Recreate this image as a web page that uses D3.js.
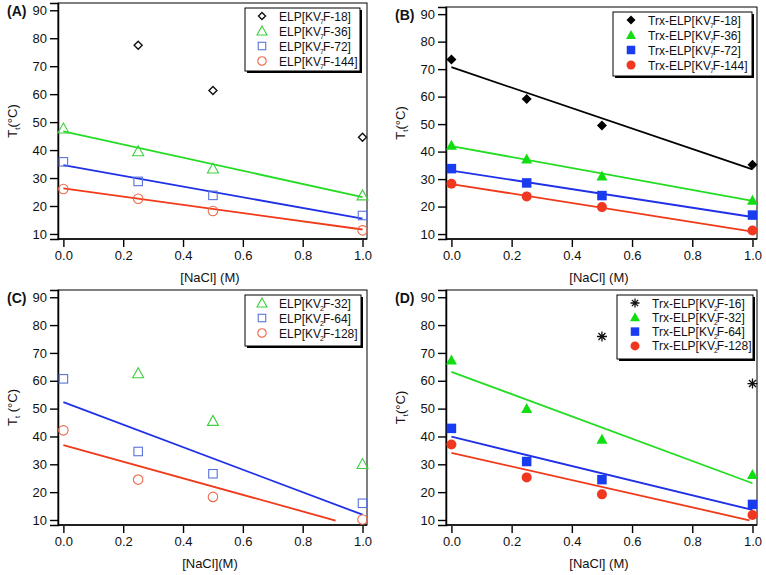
<!DOCTYPE html>
<html>
<head>
<meta charset="utf-8">
<script src="https://cdn.jsdelivr.net/npm/d3@7"></script>
<style>
  body { margin: 0; background: #fff; }
  text { font-family: "Liberation Sans", Arial, sans-serif; }
</style>
</head>
<body>
<script>
// data
var nacl = [0, 0.25, 0.5, 1.0];
var xTicks = [0, 0.2, 0.4, 0.6, 0.8, 1.0];
var yTicks = [10, 20, 30, 40, 50, 60, 70, 80, 90];

// (A) ELP[KV7F-n]
var elp7_18 = [null, 77.5, 61.3, 44.6];
var elp7_36 = [47.7, 39.6, 33.4, 23.8];
var elp7_72 = [35.8, 28.8, 23.8, 16.6];
var elp7_144 = [26.1, 22.6, 18.2, 11.3];
var fitA_36 = [46.7, 23.2];
var fitA_72 = [34.6, 15.5];
var fitA_144 = [26.3, 11.6];

// (B) Trx-ELP[KV7F-n]
var trx7_18 = [73.5, 59.1, 49.5, 35.2];
var trx7_36 = [42.3, 37.3, 31.1, 22.3];
var trx7_72 = [33.8, 28.6, 24.0, 16.9];
var trx7_144 = [28.3, 23.7, 19.8, 11.3];
var fitB_18 = [70.7, 33.5];
var fitB_36 = [42.0, 22.1];
var fitB_72 = [33.1, 16.2];
var fitB_144 = [28.2, 10.9];

// (C) ELP[KV2F-n]
var elp2_32 = [null, 62.7, 45.6, 30.1];
var elp2_64 = [60.7, 34.6, 26.6, 16.0];
var elp2_128 = [42.2, 24.5, 18.3, 10.2];
var fitC_64 = [52.3, 11.9];
var fitC_128 = [36.9, 9.8];
var fitC_128x = [0, 0.91];

// (D) Trx-ELP[KV2F-n]
var trx2_16 = [null, null, 75.9, 59.0];
var trx2_32 = [67.5, 50.0, 39.0, 26.3];
var trx2_64 = [42.9, 31.0, 24.5, 15.6];
var trx2_128 = [37.1, 25.3, 19.2, 11.8];
var fitD_32 = [63.2, 23.2];
var fitD_64 = [39.9, 13.6];
var fitD_128 = [34.1, 9.9];
var fitD_128x = [0, 0.99];

var fitX = [0, 1];

var green = "#22dd22", blue = "#1f30e6", red = "#f03a1a";
var openGreen = "#3fcf3f", openBlue = "#5a72dc", openRed = "#ee6a4c";

var width = 766, height = 575;
var svg = d3.select("body").append("svg")
  .attr("width", width)
  .attr("height", height);

var panels = [
  { label: "(A)", frame: {l: 58, t: 3, r: 367, b: 239}, xTitle: "[NaCl] (M)", ySpace: "",
    legend: {x: 245, y: 8, w: 115, h: 63, step: 15, sx: 17, tx: 34},
    series: [
      {name: ["ELP[KV", "7", "F-18]"], vals: elp7_18, shape: "diamond", fill: false, color: "#111"},
      {name: ["ELP[KV", "7", "F-36]"], vals: elp7_36, shape: "triangle", fill: false, color: openGreen, fit: fitA_36, fitColor: green},
      {name: ["ELP[KV", "7", "F-72]"], vals: elp7_72, shape: "square", fill: false, color: openBlue, fit: fitA_72, fitColor: blue},
      {name: ["ELP[KV", "7", "F-144]"], vals: elp7_144, shape: "circle", fill: false, color: openRed, fit: fitA_144, fitColor: red}
    ]},
  { label: "(B)", frame: {l: 446, t: 7, r: 757, b: 239}, xTitle: "[NaCl] (M)", ySpace: "",
    legend: {x: 613, y: 12, w: 139, h: 64, step: 15, sx: 18, tx: 35},
    series: [
      {name: ["Trx-ELP[KV", "7", "F-18]"], vals: trx7_18, shape: "diamond", fill: true, color: "#000", fit: fitB_18, fitColor: "#000"},
      {name: ["Trx-ELP[KV", "7", "F-36]"], vals: trx7_36, shape: "triangle", fill: true, color: "#11dd11", fit: fitB_36, fitColor: green},
      {name: ["Trx-ELP[KV", "7", "F-72]"], vals: trx7_72, shape: "square", fill: true, color: "#1a3cf0", fit: fitB_72, fitColor: blue},
      {name: ["Trx-ELP[KV", "7", "F-144]"], vals: trx7_144, shape: "circle", fill: true, color: "#f03820", fit: fitB_144, fitColor: red}
    ]},
  { label: "(C)", frame: {l: 58, t: 290, r: 367, b: 525}, xTitle: "[NaCl](M)", ySpace: " ",
    legend: {x: 245, y: 295, w: 116, h: 51, step: 15, sx: 17, tx: 34},
    series: [
      {name: ["ELP[KV", "2", "F-32]"], vals: elp2_32, shape: "triangle", fill: false, color: openGreen},
      {name: ["ELP[KV", "2", "F-64]"], vals: elp2_64, shape: "square", fill: false, color: openBlue, fit: fitC_64, fitColor: blue},
      {name: ["ELP[KV", "2", "F-128]"], vals: elp2_128, shape: "circle", fill: false, color: openRed, fit: fitC_128, fitXs: fitC_128x, fitColor: red}
    ]},
  { label: "(D)", frame: {l: 446, t: 290, r: 757, b: 525}, xTitle: "[NaCl] (M)", ySpace: "",
    legend: {x: 617, y: 295, w: 136, h: 64, step: 14.3, sx: 18, tx: 35},
    series: [
      {name: ["Trx-ELP[KV", "2", "F-16]"], vals: trx2_16, shape: "asterisk", fill: false, color: "#111"},
      {name: ["Trx-ELP[KV", "2", "F-32]"], vals: trx2_32, shape: "triangle", fill: true, color: "#11dd11", fit: fitD_32, fitColor: green},
      {name: ["Trx-ELP[KV", "2", "F-64]"], vals: trx2_64, shape: "square", fill: true, color: "#1a3cf0", fit: fitD_64, fitColor: blue},
      {name: ["Trx-ELP[KV", "2", "F-128]"], vals: trx2_128, shape: "circle", fill: true, color: "#f03820", fit: fitD_128, fitXs: fitD_128x, fitColor: red}
    ]}
];

// draws one marker centred at 0,0
function marker(g, shape, fill, color, s) {
  var sw = fill ? 0 : 1.1;
  var f = fill ? color : "none";
  if (shape === "circle") {
    g.append("circle").attr("r", s * 0.5).attr("fill", f).attr("stroke", color).attr("stroke-width", sw || 0);
  } else if (shape === "square") {
    g.append("rect").attr("x", -s / 2).attr("y", -s / 2).attr("width", s).attr("height", s)
      .attr("fill", f).attr("stroke", color).attr("stroke-width", sw);
  } else if (shape === "triangle") {
    var h = s * 0.5;
    g.append("path").attr("d", "M0," + (-h - 0.5) + "L" + (h + 0.5) + "," + (h - 0.5) + "L" + (-h - 0.5) + "," + (h - 0.5) + "Z")
      .attr("fill", f).attr("stroke", color).attr("stroke-width", sw).attr("stroke-linejoin", "miter");
  } else if (shape === "diamond") {
    var d = s * 0.5;
    g.append("path").attr("d", "M0," + (-d) + "L" + d + ",0L0," + d + "L" + (-d) + ",0Z")
      .attr("fill", f).attr("stroke", color).attr("stroke-width", fill ? 0 : 1.4);
  } else if (shape === "asterisk") {
    var a = s * 0.5;
    g.append("path").attr("d", "M" + (-a) + ",0L" + a + ",0M0," + (-a) + "L0," + a +
      "M" + (-a * 0.7) + "," + (-a * 0.7) + "L" + (a * 0.7) + "," + (a * 0.7) +
      "M" + (-a * 0.7) + "," + (a * 0.7) + "L" + (a * 0.7) + "," + (-a * 0.7))
      .attr("stroke", color).attr("stroke-width", 1.3).attr("fill", "none");
  }
}

function markSize(shape, fill) {
  if (shape === "circle") return fill ? 10 : 9.5;
  if (shape === "square") return fill ? 9.5 : 8.5;
  if (shape === "triangle") return fill ? 10 : 10;
  if (shape === "diamond") return fill ? 10 : 8;
  return 10;
}

panels.forEach(function(p) {
  var fr = p.frame;
  var x = d3.scaleLinear().domain([-0.018, 1.015]).range([fr.l, fr.r]);
  var y = d3.scaleLinear().domain([8.2, 92.6]).range([fr.b, fr.t]);
  var g = svg.append("g");

  // frame
  g.append("rect").attr("x", fr.l).attr("y", fr.t).attr("width", fr.r - fr.l).attr("height", fr.b - fr.t)
    .attr("fill", "none").attr("stroke", "#000").attr("stroke-width", 1);

  // axes
  var yAxis = d3.axisLeft(y).tickValues(yTicks).tickSize(8).tickPadding(3).tickFormat(d3.format("d"));
  var xAxis = d3.axisBottom(x).tickValues(xTicks).tickSize(7).tickPadding(4).tickFormat(d3.format(".1f"));
  var ya = g.append("g").attr("transform", "translate(" + fr.l + ",0)").call(yAxis);
  var xa = g.append("g").attr("transform", "translate(0," + (fr.b + 1) + ")").call(xAxis);
  ya.select(".domain").attr("stroke-width", 1.5);
  xa.select(".domain").remove();
  g.append("line").attr("x1", fr.l).attr("x2", fr.r).attr("y1", fr.b).attr("y2", fr.b)
    .attr("stroke", "#000").attr("stroke-width", 1.5);
  [ya, xa].forEach(function(a) {
    a.selectAll(".tick line").attr("stroke-width", 1.4);
    a.selectAll("text").attr("font-size", 13).attr("fill", "#111")
      .attr("font-family", "'Liberation Sans', Arial, sans-serif");
  });

  // titles
  g.append("text").attr("x", (x(0) + x(1)) / 2 - 3).attr("y", fr.b + 43)
    .attr("text-anchor", "middle").attr("font-size", 13).attr("fill", "#111").text(p.xTitle);
  var yt = g.append("text")
    .attr("transform", "translate(" + (fr.l - 41) + "," + ((fr.t + fr.b) / 2) + ") rotate(-90)")
    .attr("text-anchor", "middle").attr("font-size", 13).attr("fill", "#111");
  yt.append("tspan").text("T");
  yt.append("tspan").attr("font-size", 8).attr("dy", 3).text("t");
  yt.append("tspan").attr("dy", -3).text(p.ySpace + "(°C)");

  g.append("text").attr("x", fr.l - 51).attr("y", fr.t + 13).attr("font-size", 14)
    .attr("font-weight", "bold").attr("fill", "#111").text(p.label);

  // fit lines
  p.series.forEach(function(s) {
    if (!s.fit) return;
    var xs = s.fitXs || fitX;
    var pts = xs.map(function(v, i) { return [v, s.fit[i]]; });
    g.append("path").datum(pts)
      .attr("d", d3.line().x(function(d) { return x(d[0]); }).y(function(d) { return y(d[1]); }))
      .attr("fill", "none").attr("stroke", s.fitColor).attr("stroke-width", 1.8);
  });

  // points
  p.series.forEach(function(s) {
    var pts = nacl.map(function(v, i) { return [v, s.vals[i]]; }).filter(function(d) { return d[1] != null; });
    pts.forEach(function(d) {
      var m = g.append("g").attr("transform", "translate(" + x(d[0]) + "," + y(d[1]) + ")");
      marker(m, s.shape, s.fill, s.color, markSize(s.shape, s.fill));
    });
  });

  // legend
  var L = p.legend;
  var lg = g.append("g").attr("transform", "translate(" + L.x + "," + L.y + ")");
  lg.append("rect").attr("x", 2).attr("y", 2).attr("width", L.w).attr("height", L.h).attr("fill", "#000");
  lg.append("rect").attr("width", L.w).attr("height", L.h).attr("fill", "#fff").attr("stroke", "#000").attr("stroke-width", 1);
  p.series.forEach(function(s, i) {
    var ry = 8 + i * L.step;
    var m = lg.append("g").attr("transform", "translate(" + L.sx + "," + ry + ")");
    marker(m, s.shape, s.fill, s.color, markSize(s.shape, s.fill) - 1);
    var t = lg.append("text").attr("x", L.tx).attr("y", ry + 4.5).attr("font-size", 12).attr("fill", "#111");
    t.append("tspan").text(s.name[0]);
    t.append("tspan").attr("font-size", 7).attr("dy", 3).attr("dx", -1).text(s.name[1]);
    t.append("tspan").attr("dy", -3).attr("dx", -1).text(s.name[2]);
  });
});
</script>
</body>
</html>
